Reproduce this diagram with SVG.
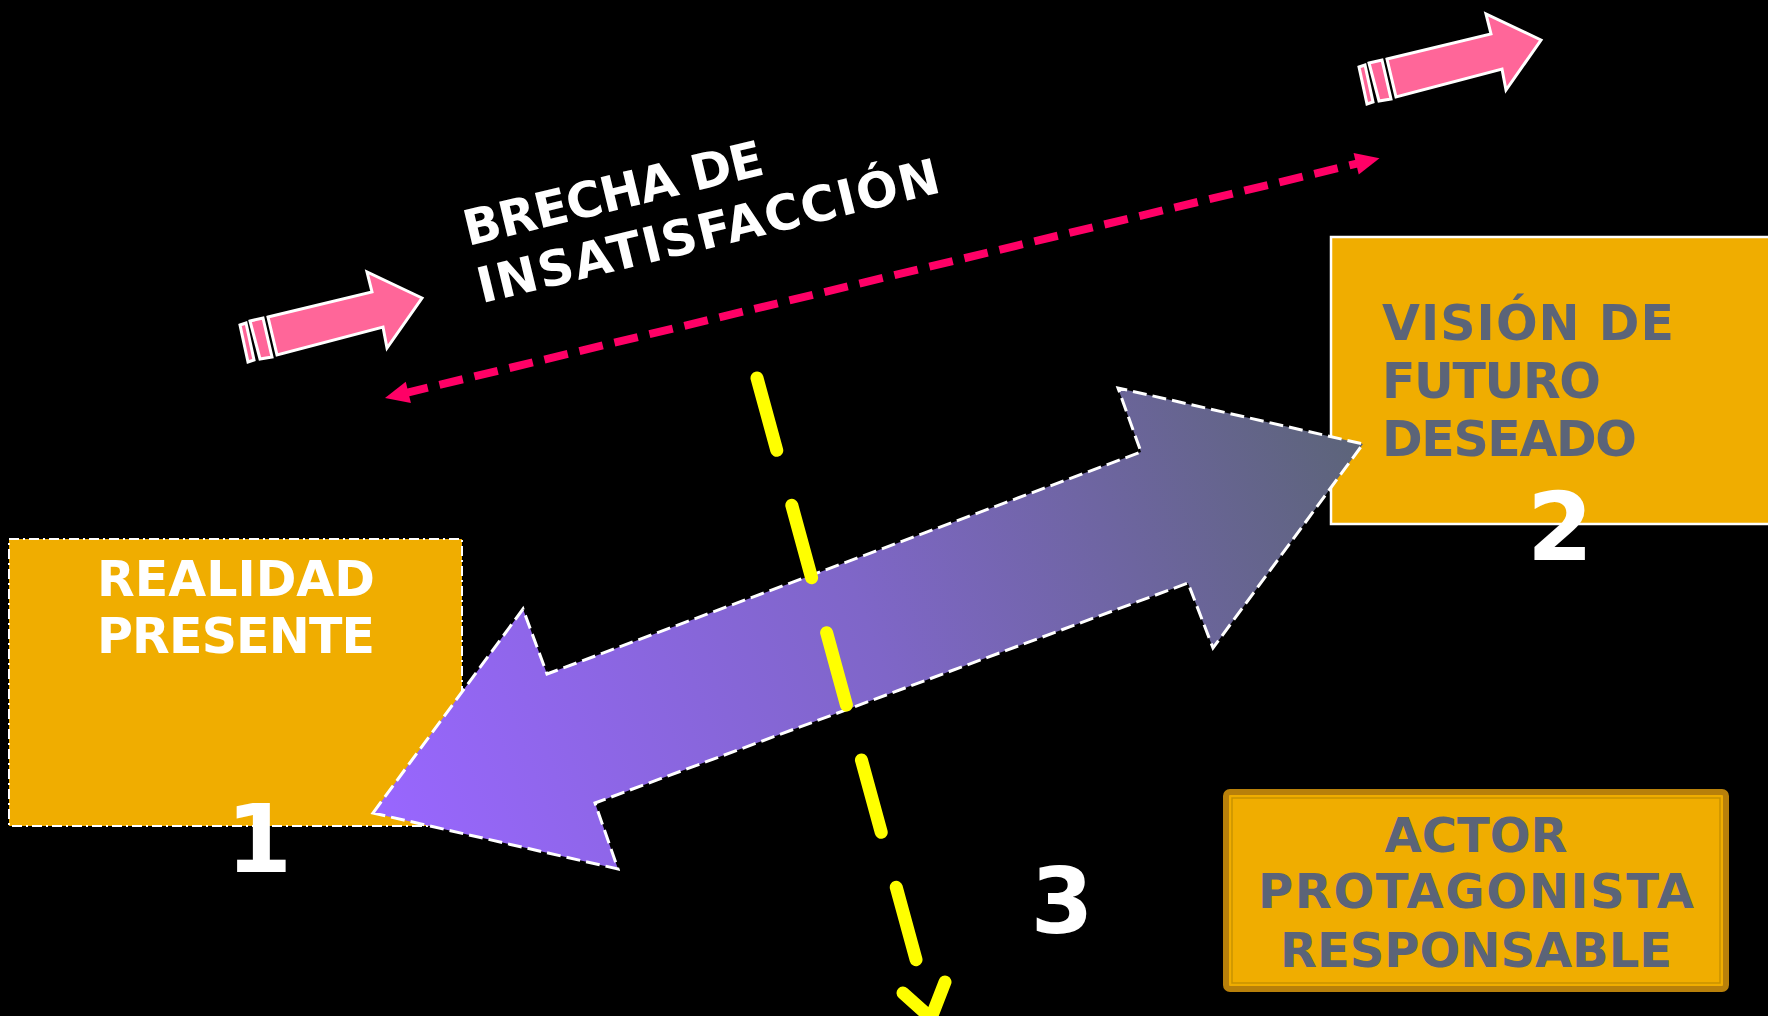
<svg xmlns="http://www.w3.org/2000/svg" width="1768" height="1016" viewBox="0 0 1768 1016">
<style>
.t{font-family:"DejaVu Sans","Liberation Sans",sans-serif;font-weight:bold}
.w{fill:#FFFFFF}
.g{fill:#5B6478}
.box{fill:#F0AD00}
.pk{fill:#FF6699;stroke:#FFFFFF;stroke-width:3;stroke-linejoin:miter}
</style>
<defs>
<linearGradient id="ag" gradientUnits="userSpaceOnUse" x1="373" y1="813" x2="1363" y2="444">
<stop offset="0" stop-color="#9966FF"/>
<stop offset="0.5" stop-color="#7F66C8"/>
<stop offset="1" stop-color="#5C6479"/>
</linearGradient>
<g id="pinkArrow">
<polygon class="pk" points="240,325 246,323 254,360 248,362"/>
<polygon class="pk" points="250,321 263,318 272,357 260,359"/>
<polygon class="pk" points="268,317 372,292 367,272 422,298 387,348 383,327 277,355"/>
</g>
</defs>
<rect x="0" y="0" width="1768" height="1016" fill="#000000"/>

<g id="node-realidad">
<rect class="box" x="9" y="539" width="453" height="287" stroke="#FFFFFF" stroke-width="2" stroke-dasharray="10 4 2 4"/>
<text class="t w" x="236" y="596" font-size="49" text-anchor="middle">REALIDAD</text>
<text class="t w" x="236" y="653" font-size="49" text-anchor="middle" textLength="278">PRESENTE</text>
</g>

<g id="node-vision">
<rect class="box" x="1331" y="237" width="450" height="287" stroke="#FFFFFF" stroke-width="2.5"/>
<text class="t g" x="1382" y="340" font-size="49" textLength="292">VISIÓN DE</text>
<text class="t g" x="1382" y="398" font-size="49" textLength="219">FUTURO</text>
<text class="t g" x="1382" y="456" font-size="49" textLength="255">DESEADO</text>
</g>

<g id="node-actor">
<rect x="1226" y="792" width="500" height="197" rx="4" fill="#F0AD00" stroke="#B8800A" stroke-width="6"/>
<rect x="1232" y="798" width="488" height="185" fill="none" stroke="#C89200" stroke-width="1.5"/>
<text class="t g" x="1476" y="852" font-size="48" text-anchor="middle">ACTOR</text>
<text class="t g" x="1476" y="908" font-size="48" text-anchor="middle" textLength="436">PROTAGONISTA</text>
<text class="t g" x="1476" y="967" font-size="48" text-anchor="middle">RESPONSABLE</text>
</g>

<g id="node-brecha">
<g transform="translate(468,246) rotate(-13.6)">
<text class="t w" x="0" y="0" font-size="49" textLength="307">BRECHA DE</text>
<text class="t w" x="0" y="59" font-size="49" textLength="474">INSATISFACCIÓN</text>
</g>
</g>

<g id="connectors">
<use href="#pinkArrow"/>
<use href="#pinkArrow" transform="translate(1119,-258)"/>
<g transform="translate(385,398) rotate(-13.56)">
<line x1="20" y1="0" x2="1003" y2="0" stroke="#FF0066" stroke-width="8" stroke-dasharray="24 12"/>
<polygon points="0,0 24,-11 24,11" fill="#FF0066"/>
<polygon points="1023,0 999,-11 999,11" fill="#FF0066"/>
</g>
<polygon points="373,813 523,609 547,674 1141,452 1118,388 1363,444 1213,648 1188,583 595,803 618,869" fill="url(#ag)" stroke="#FFFFFF" stroke-width="3" stroke-dasharray="14 6"/>
<path d="M757,378 L932,1018" fill="none" stroke="#FFFF00" stroke-width="13" stroke-linecap="round" stroke-dasharray="75 57"/>
<polyline points="903,993 931,1018 945,982" fill="none" stroke="#FFFF00" stroke-width="13" stroke-linecap="round" stroke-linejoin="round"/>
</g>

<g id="numbers">
<text class="t w" x="259" y="872" font-size="95" text-anchor="middle">1</text>
<text class="t w" x="1560" y="560" font-size="95" text-anchor="middle">2</text>
<text class="t w" x="1062" y="933" font-size="90" text-anchor="middle">3</text>
</g>
</svg>
